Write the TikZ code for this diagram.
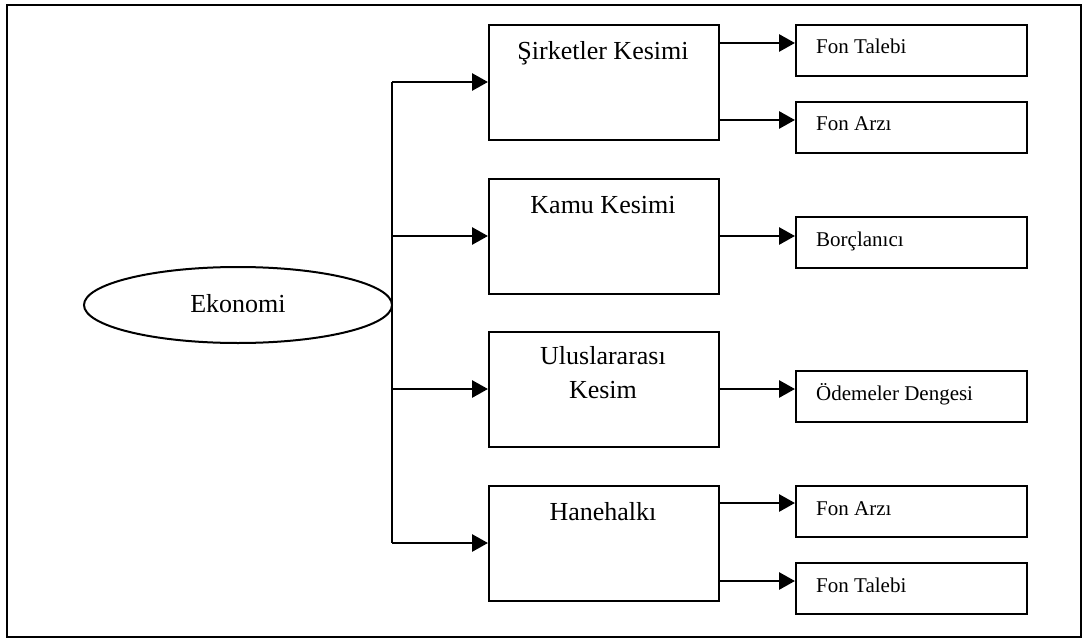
\documentclass[tikz,border=0pt]{standalone}
\usepackage{fontspec}
\setmainfont{Liberation Serif}
\usetikzlibrary{arrows.meta,shapes.geometric}

\tikzset{
  frame/.style={draw=black, line width=2pt},
  sector/.style={draw=black, line width=2.2pt, minimum width=230pt, minimum height=115pt, inner sep=0pt, anchor=north west},
  item/.style={draw=black, line width=2.2pt, minimum width=231pt, minimum height=51pt, inner sep=0pt, anchor=north west},
  bigtext/.style={font=\fontsize{26}{31}\selectfont, align=center, anchor=base},
  smalltext/.style={font=\fontsize{21}{25}\selectfont, anchor=base west, inner sep=0pt},
  link/.style={draw=black, line width=2.8pt, -{Triangle[length=16pt, width=17pt]}},
  trunk/.style={draw=black, line width=2.8pt}
}

\begin{document}
\begin{tikzpicture}[x=1pt, y=-1pt]
  \useasboundingbox (0,0) rectangle (1083,639);
  \draw[frame] (7,5) rectangle (1081,637);

  % root
  \node[draw=black, line width=2pt, ellipse, minimum width=308pt, minimum height=76pt, inner sep=0pt] (eko) at (238,305) {};
  \node[bigtext] (ekotxt) at (238,312) {Ekonomi};

  % sectors
  \node[sector] (s1) at (488,24) {};
  \node[sector] (s2) at (488,178) {};
  \node[sector] (s3) at (488,331) {};
  \node[sector] (s4) at (488,485) {};

  \node[bigtext] (s1t) at (603,60) {Şirketler Kesimi};
  \node[bigtext] (s2t) at (603,213) {Kamu Kesimi};
  \node[bigtext] (s3t) at (603,398) {Uluslararası\\[3pt]Kesim};
  \node[bigtext] (s4t) at (603,520) {Hanehalkı};

  % items
  \node[item] (i1) at (795,24) {};
  \node[item] (i2) at (795,101) {};
  \node[item] (i3) at (795,216) {};
  \node[item] (i4) at (795,370) {};
  \node[item] (i5) at (795,485) {};
  \node[item] (i6) at (795,562) {};

  \node[smalltext] (i1t) at (816,54) {Fon Talebi};
  \node[smalltext] (i2t) at (816,131) {Fon Arzı};
  \node[smalltext] (i3t) at (816,246) {Borçlanıcı};
  \node[smalltext] (i4t) at (816,400) {Ödemeler Dengesi};
  \node[smalltext] (i5t) at (816,515) {Fon Arzı};
  \node[smalltext] (i6t) at (816,592) {Fon Talebi};

  % trunk from the root
  \coordinate (top) at (392,82);
  \coordinate (bot) at (392,543);
  \draw[trunk] (top) -- (bot);
  \draw[link] (top) -- (s1.west |- top);
  \draw[link] (392,236) -- (s2.west |- 0,236);
  \draw[link] (392,389) -- (s3.west |- 0,389);
  \draw[link] (bot) -- (s4.west |- bot);

  % sector to item links
  \draw[link] (s1.east |- 0,43) -- (i1.west |- 0,43);
  \draw[link] (s1.east |- 0,120) -- (i2.west |- 0,120);
  \draw[link] (s2.east |- 0,236) -- (i3.west |- 0,236);
  \draw[link] (s3.east |- 0,389) -- (i4.west |- 0,389);
  \draw[link] (s4.east |- 0,503) -- (i5.west |- 0,503);
  \draw[link] (s4.east |- 0,581) -- (i6.west |- 0,581);
\end{tikzpicture}
\end{document}
